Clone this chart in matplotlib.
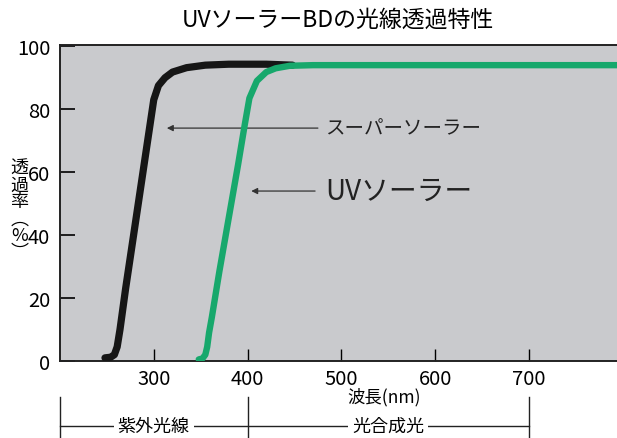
import matplotlib
matplotlib.use("Agg")
import matplotlib.pyplot as plt
from matplotlib.transforms import blended_transform_factory

plt.rcParams['font.family'] = ['Noto Sans CJK JP', 'DejaVu Sans']

# data (wavelength nm, transmittance %)
super_nm = [248, 254, 258, 261, 264, 270, 280, 290, 296, 300, 305, 312, 320, 335, 355, 380, 420, 448]
super_val = [1.0, 1.2, 2.0, 4.5, 10, 23, 43, 63, 75, 83, 87.5, 90, 91.8, 93.2, 94, 94.3, 94.3, 94.0]

uv_nm = [348, 352, 355, 357, 359, 362, 370, 380, 390, 397, 402, 410, 420, 430, 445, 470, 795]
uv_val = [0.5, 0.8, 2.0, 4.5, 9, 14, 28.5, 45.5, 62.5, 75, 83.5, 89, 91.8, 93, 93.8, 94, 94]

x_ticks = [300, 400, 500, 600, 700]
y_ticks = [0, 20, 40, 60, 80, 100]
band_edges = [200, 400, 700]
band_labels = ['紫外光線', '光合成光']

fig = plt.figure(figsize=(6.17, 4.39), dpi=100)
ax = fig.add_axes([0.0972, 0.1754, 0.9028, 0.7198])
ax.set_facecolor('#c9cacd')

ax.plot(super_nm, super_val, color='#161616', lw=5.2,
        solid_capstyle='round', solid_joinstyle='round', zorder=3)
ax.plot(uv_nm, uv_val, color='#17a86c', lw=4.6,
        solid_capstyle='round', solid_joinstyle='round', zorder=4)

ax.set_xlim(200, 794)
ax.set_ylim(0, 100.4)
ax.set_xticks(x_ticks)
ax.set_yticks(y_ticks)
ax.tick_params(axis='y', direction='in', length=11, width=1.2, pad=7, labelsize=14.5)
ax.tick_params(axis='x', direction='in', length=9, width=1.0, pad=5, labelsize=14.5)

for s in ['left', 'top', 'bottom']:
    ax.spines[s].set_linewidth(1.4)
    ax.spines[s].set_color('#222222')
ax.spines['right'].set_visible(False)

# arrows + labels
ax.annotate('', xy=(311, 74), xytext=(478, 74),
            arrowprops=dict(arrowstyle='-|>', color='#333333', lw=0.9,
                            mutation_scale=9))
ax.text(483, 74, 'スーパーソーラー', fontsize=14, va='center', ha='left', color='#222222')
ax.annotate('', xy=(401, 54), xytext=(475, 54),
            arrowprops=dict(arrowstyle='-|>', color='#333333', lw=0.9,
                            mutation_scale=9))
ax.text(483, 54, 'UVソーラー', fontsize=20, va='center', ha='left', color='#222222')

fig.text(0.548, 0.955, 'UVソーラーBDの光線透過特性', fontsize=16.5, ha='center', va='center')
fig.text(0.031, 0.52, '透\n過\n率\n︵\n%\n︶', fontsize=13, ha='center', va='center',
         linespacing=0.92)
fig.text(0.622, 0.095, '波長(nm)', fontsize=12.5, ha='center', va='center')

# band brackets under the axis
tr = blended_transform_factory(ax.transData, fig.transFigure)
for e in band_edges:
    ax.plot([e, e], [0.0, 0.094], transform=tr, color='#222222', lw=1.0, clip_on=False)
ax.plot([band_edges[0], band_edges[-1]], [0.027, 0.027], transform=tr,
        color='#222222', lw=1.0, clip_on=False)
for i, lab in enumerate(band_labels):
    mid = (band_edges[i] + band_edges[i + 1]) / 2
    ax.text(mid, 0.027, lab, transform=tr, fontsize=13, ha='center', va='center',
            bbox=dict(facecolor='white', edgecolor='none', pad=3))

fig.savefig('out.png', dpi=100)
